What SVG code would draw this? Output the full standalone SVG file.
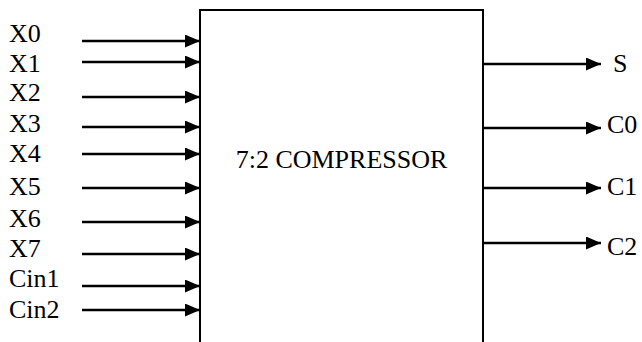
<svg xmlns="http://www.w3.org/2000/svg" width="642" height="342" viewBox="0 0 642 342">
<style>
.lbl{font-family:"Liberation Serif","Times New Roman",serif;font-size:26px;fill:#000}
.w{stroke:#000;stroke-width:2.5;fill:none}
.box{stroke:#000;stroke-width:2;fill:#fff}
</style>
<defs>
<marker id="ah" markerUnits="userSpaceOnUse" markerWidth="15" markerHeight="13" refX="15" refY="6.5" orient="auto">
<path d="M0,0 L15,6.5 L0,13 z" fill="#000"/>
</marker>
</defs>
<rect width="642" height="342" fill="#fff"/>
<g id="compressor">
<rect class="box" x="200" y="10" width="283" height="345"/>
<text class="lbl" x="341.5" y="168" text-anchor="middle">7:2 COMPRESSOR</text>
</g>
<g id="inputs">
<text class="lbl" x="9" y="42">X0</text>
<text class="lbl" x="9" y="72">X1</text>
<text class="lbl" x="9" y="101">X2</text>
<text class="lbl" x="9" y="132">X3</text>
<text class="lbl" x="9" y="162">X4</text>
<text class="lbl" x="9" y="195">X5</text>
<text class="lbl" x="9" y="227">X6</text>
<text class="lbl" x="9" y="257">X7</text>
<text class="lbl" x="9" y="287">Cin1</text>
<text class="lbl" x="9" y="318">Cin2</text>
</g>
<g id="outputs">
<text class="lbl" x="613" y="72">S</text>
<text class="lbl" x="607" y="133">C0</text>
<text class="lbl" x="607" y="195">C1</text>
<text class="lbl" x="607" y="255">C2</text>
</g>
<g id="connectors">
<line class="w" x1="82" y1="41" x2="200" y2="41" marker-end="url(#ah)"/>
<line class="w" x1="82" y1="62" x2="200" y2="62" marker-end="url(#ah)"/>
<line class="w" x1="82" y1="97" x2="200" y2="97" marker-end="url(#ah)"/>
<line class="w" x1="82" y1="127" x2="200" y2="127" marker-end="url(#ah)"/>
<line class="w" x1="82" y1="154" x2="200" y2="154" marker-end="url(#ah)"/>
<line class="w" x1="82" y1="188" x2="200" y2="188" marker-end="url(#ah)"/>
<line class="w" x1="82" y1="222" x2="200" y2="222" marker-end="url(#ah)"/>
<line class="w" x1="82" y1="254" x2="200" y2="254" marker-end="url(#ah)"/>
<line class="w" x1="82" y1="286" x2="200" y2="286" marker-end="url(#ah)"/>
<line class="w" x1="82" y1="310" x2="200" y2="310" marker-end="url(#ah)"/>
<line class="w" x1="483" y1="64" x2="601" y2="64" marker-end="url(#ah)"/>
<line class="w" x1="483" y1="128" x2="601" y2="128" marker-end="url(#ah)"/>
<line class="w" x1="483" y1="188" x2="601" y2="188" marker-end="url(#ah)"/>
<line class="w" x1="483" y1="243" x2="601" y2="243" marker-end="url(#ah)"/>
</g>
</svg>
